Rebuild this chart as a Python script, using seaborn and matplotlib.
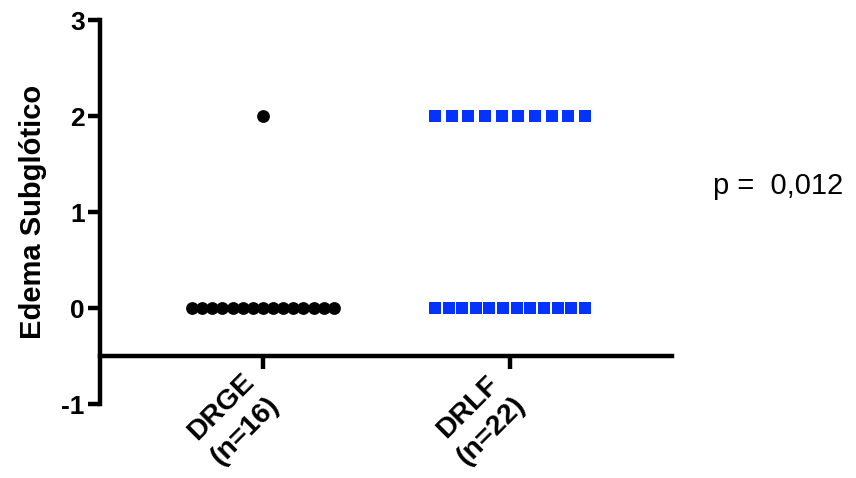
import numpy as np
import pandas as pd
import matplotlib
matplotlib.use("Agg")
import matplotlib.pyplot as plt
import seaborn as sns

# data
groups = ["DRGE\n(n=16)", "DRLF\n(n=22)"]
drge_scores = [0] * 15 + [2]
drlf_scores = [0] * 12 + [2] * 10
p_text = "p =  0,012"

sns.set_theme(style="ticks")
plt.rcParams['font.family'] = ['Liberation Sans', 'DejaVu Sans']
plt.rcParams['axes.unicode_minus'] = False
plt.rcParams['text.color'] = 'black'
plt.rcParams['axes.labelcolor'] = 'black'
plt.rcParams['xtick.color'] = 'black'
plt.rcParams['ytick.color'] = 'black'


def spread(scores, gi, half_width):
    # place points of equal value side by side, centred on the group
    rows = []
    for val in sorted(set(scores)):
        n = scores.count(val)
        offs = np.linspace(-half_width, half_width, n) if n > 1 else [0.0]
        for o in offs:
            rows.append({"x": gi + o, "score": val})
    return pd.DataFrame(rows)


df_drge = spread(drge_scores, 0, 0.287)
df_drlf = spread(drlf_scores, 1, 0.304)

fig = plt.figure(figsize=(8.56, 4.78), dpi=100)
ax = fig.add_axes([0.1168, 0.1548, 0.785 - 0.1168, 0.958 - 0.1548])

sns.scatterplot(data=df_drge, x="x", y="score", color="black", marker="o",
                s=85, linewidth=0, ax=ax, clip_on=False)
sns.scatterplot(data=df_drlf, x="x", y="score", color="#0433FF", marker="s",
                s=82, linewidth=0, ax=ax, clip_on=False)

ax.spines["top"].set_visible(False)
ax.spines["right"].set_visible(False)
ax.spines["bottom"].set_position(("data", -0.5))
for sp in ("left", "bottom"):
    ax.spines[sp].set_linewidth(3.2)
    ax.spines[sp].set_color("black")

ax.set_xlim(-0.66, 1.656)
ax.set_ylim(-1, 3)
ax.set_yticks([-1, 0, 1, 2, 3])
ax.set_xticks([0, 1])
ax.set_xticklabels(groups, rotation=45, ha="right", va="center",
                   rotation_mode="anchor", fontsize=20.5, fontweight="bold",
                   multialignment="center", linespacing=1.35)
ax.set_yticklabels(["-1", "0", "1", "2", "3"], fontsize=19, fontweight="bold")
ax.tick_params(axis="both", width=3.2, length=9, color="black", pad=2)
ax.tick_params(axis="x", pad=15)

ax.set_xlabel("")
ax.set_ylabel("Edema Subglótico", fontsize=21, fontweight="bold", labelpad=10)

fig.text(713 / 856, 1 - 186 / 478, p_text, fontsize=21, va="center", ha="left")

fig.savefig("out.png", dpi=100)
